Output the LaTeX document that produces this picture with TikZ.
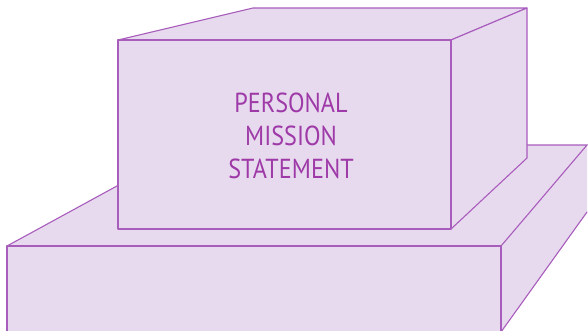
\documentclass[tikz,border=0pt]{standalone}
\usepackage{fontspec}
\newfontfamily\labelfont[FakeStretch=0.88]{PT Sans}
\definecolor{facefill}{RGB}{232,218,238}
\definecolor{edgecol}{RGB}{168,92,188}
\definecolor{textcol}{RGB}{158,58,168}
\begin{document}
\begin{tikzpicture}[x=1pt,y=-1pt,
  face/.style={fill=facefill,draw=edgecol,line width=1.1pt,line join=round},
  facefillonly/.style={fill=facefill},
  edge/.style={draw=edgecol,line width=1.1pt,line cap=round}]
\useasboundingbox (0,0) rectangle (588,330);
\clip (0,0) rectangle (588,330);
% slab
\coordinate (sA) at (7,246);
\coordinate (sB) at (501,246);
\coordinate (sC) at (587,145);
\coordinate (sD) at (192,145);
\coordinate (sE) at (587,212);
\coordinate (sF) at (501,332);
\coordinate (sG) at (7,332);
\fill[facefillonly] (sA) -- (sD) -- (sC) -- (sB) -- cycle;
\fill[facefillonly] (sB) -- (sC) -- (sE) -- (sF) -- cycle;
\draw[edge] (sA) -- (sD) -- (sC) -- (sB);
\draw[edge] (sE) -- (sF);
\draw[face] (sG) -- (sA) -- (sB) -- (sF);
% box
\coordinate (bA) at (118,40);
\coordinate (bB) at (451,40);
\coordinate (bC) at (451,229);
\coordinate (bD) at (118,229);
\coordinate (bE) at (253,8);
\coordinate (bF) at (527,8);
\coordinate (bG) at (527,158);
\draw[face] (bA) -- (bE) -- (bF) -- (bB) -- cycle;
\draw[face] (bB) -- (bF) -- (bG) -- (bC) -- cycle;
\draw[face] (bA) rectangle (bC);
\node[text=textcol,font=\labelfont\fontsize{27.5}{33}\selectfont,align=center] (label) at (291,136) {PERSONAL\\MISSION\\STATEMENT};
\end{tikzpicture}
\end{document}
